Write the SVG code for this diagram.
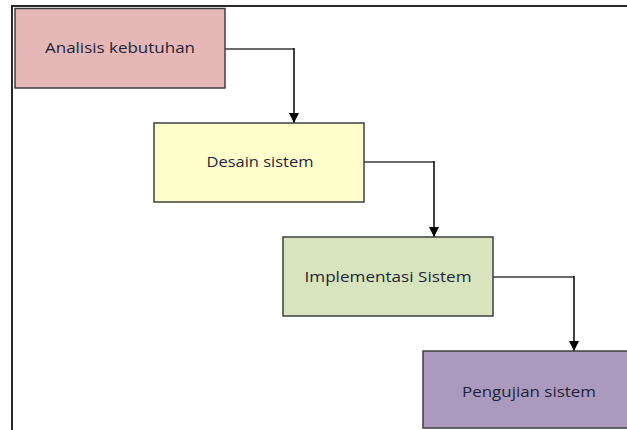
<svg xmlns="http://www.w3.org/2000/svg" width="627" height="430" viewBox="0 0 627 430">
<style>
.box{stroke:#3f3f3f;stroke-width:1.5}
.lbl{font-family:"Open Sans","Liberation Sans",sans-serif;font-size:14px;fill:#1f1f3a;text-anchor:middle}
.h{fill:none;stroke:#6b6b6b;stroke-width:2}
.v{fill:none;stroke:#000;stroke-width:1.5}
</style>
<defs>
<marker id="arr" viewBox="0 0 10 10" refX="10" refY="5" markerWidth="10" markerHeight="10" markerUnits="userSpaceOnUse" orient="auto">
<path d="M0,0 L10,5 L0,10 z" fill="#000"/>
</marker>
</defs>
<rect width="627" height="430" fill="#fff"/>
<path d="M12,430 V6 H627" fill="none" stroke="#2a2a2a" stroke-width="2"/>
<g id="connectors">
<path class="h" d="M225,49 H294"/>
<path class="v" d="M294,48 V123" marker-end="url(#arr)"/>
<path class="h" d="M364,162 H434"/>
<path class="v" d="M434,161 V237" marker-end="url(#arr)"/>
<path class="h" d="M493,277 H574"/>
<path class="v" d="M574,276 V351" marker-end="url(#arr)"/>
</g>
<g id="n1">
<rect class="box" x="15" y="8.5" width="210" height="79.5" fill="#e5b8b7"/>
<text class="lbl" x="120" y="53" textLength="150" lengthAdjust="spacingAndGlyphs">Analisis kebutuhan</text>
</g>
<g id="n2">
<rect class="box" x="154" y="123" width="210" height="79" fill="#ffffcc"/>
<text class="lbl" x="260" y="167" textLength="107" lengthAdjust="spacingAndGlyphs">Desain sistem</text>
</g>
<g id="n3">
<rect class="box" x="283" y="237" width="210" height="79" fill="#d7e4bd"/>
<text class="lbl" x="388" y="282" textLength="167" lengthAdjust="spacingAndGlyphs">Implementasi Sistem</text>
</g>
<g id="n4">
<rect class="box" x="423" y="351" width="210" height="77" fill="#ab9abd"/>
<text class="lbl" x="529" y="397" textLength="134" lengthAdjust="spacingAndGlyphs">Pengujian sistem</text>
</g>
</svg>
